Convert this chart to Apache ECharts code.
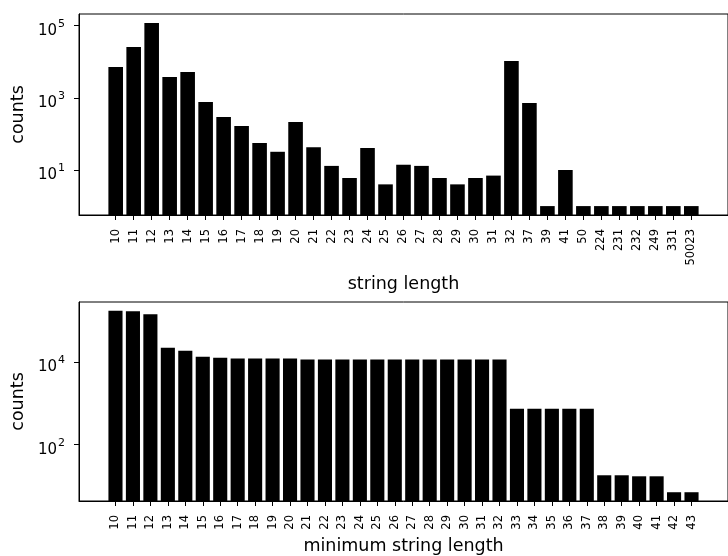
<!DOCTYPE html>
<html>
<head>
<meta charset="utf-8">
<script src="https://cdn.jsdelivr.net/npm/echarts@6/dist/echarts.min.js"></script>
<style>
html,body{margin:0;padding:0;background:#fff;}
#chart{width:728px;height:556px;}
</style>
</head>
<body>
<div id="chart"></div>
<script>
const topCategories = ['10','11','12','13','14','15','16','17','18','19','20','21','22','23','24','25','26','27','28','29','30','31','32','37','39','41','50','224','231','232','249','331','50023'];
const topCounts = [7180, 25700, 119000, 3780, 5210, 767, 294, 166, 56, 32, 214, 43, 13, 6, 41, 4, 14, 13, 6, 4, 6, 7, 10500, 720, 1, 10, 1, 1, 1, 1, 1, 1, 1];
const bottomCategories = ['10','11','12','13','14','15','16','17','18','19','20','21','22','23','24','25','26','27','28','29','30','31','32','33','34','35','36','37','38','39','40','41','42','43'];
const bottomCounts = [172000, 167000, 142000, 22000, 18500, 13200, 12600, 12000, 12000, 12000, 12000, 11400, 11400, 11400, 11400, 11400, 11400, 11400, 11400, 11400, 11400, 11400, 11400, 730, 730, 730, 730, 730, 18, 18, 17, 17, 7, 7];
const topYTicks = [10, 1000, 100000];
const bottomYTicks = [100, 10000];
const topXLabel = 'string length';
const bottomXLabel = 'minimum string length';
const yLabel = 'counts';

const FONT = 'DejaVu Sans';
const chart = echarts.init(document.getElementById('chart'), null, {renderer: 'canvas'});

function idx(arr) { return arr.map((_, i) => i); }
function pairs(vals) { return vals.map((v, i) => [i, v]); }
function margins(n) { const r = (n - 1) + 0.8; return [-0.4 - 0.05 * r, n - 1 + 0.4 + 0.05 * r]; }

function xAxis(grid, cats, name, gap) {
  const m = margins(cats.length);
  return {
    type: 'value', gridIndex: grid, min: m[0], max: m[1],
    splitLine: {show: false},
    axisLine: {show: true, onZero: false, lineStyle: {color: '#000', width: 1}},
    axisTick: {show: true, customValues: idx(cats), length: 5, lineStyle: {color: '#000', width: 1}},
    axisLabel: {show: true, customValues: idx(cats), rotate: 90, fontSize: 11.5, fontFamily: FONT, color: '#000', margin: 14,
      formatter: v => cats[Math.round(v)]},
    name: name, nameLocation: 'middle', nameGap: gap,
    nameTextStyle: {fontSize: 17.5, fontFamily: FONT, color: '#000'}
  };
}
function yAxis(grid, lo, hi, ticks) {
  return {
    type: 'log', logBase: 10, gridIndex: grid, min: lo, max: hi, startValue: lo,
    splitLine: {show: false}, minorTick: {show: false},
    axisLine: {show: true, onZero: false, lineStyle: {color: '#000', width: 1}},
    axisTick: {show: true, customValues: ticks, length: 5, lineStyle: {color: '#000', width: 1}},
    axisLabel: {show: true, customValues: ticks, margin: 14, color: '#000', padding: [6, 0, 0, 0],
      formatter: v => '{b|10}{s|' + Math.round(Math.log10(v)) + '}',
      rich: {
        b: {fontSize: 15, fontFamily: FONT, color: '#000', lineHeight: 20, verticalAlign: 'bottom'},
        s: {fontSize: 11, fontFamily: FONT, color: '#000', lineHeight: 10, verticalAlign: 'top', padding: [0, 0, 0, 1]}
      }},
    name: yLabel, nameLocation: 'middle', nameGap: 52,
    nameTextStyle: {fontSize: 17.5, fontFamily: FONT, color: '#000'}
  };
}

const option = {
  backgroundColor: '#fff',
  animation: false,
  grid: [
    {left: 79, top: 14, width: 657, height: 201, show: true, borderColor: '#000', borderWidth: 1, backgroundColor: 'transparent'},
    {left: 79, top: 302, width: 657, height: 201, show: true, borderColor: '#000', borderWidth: 1, backgroundColor: 'transparent'}
  ],
  xAxis: [xAxis(0, topCategories, topXLabel, 60), xAxis(1, bottomCategories, bottomXLabel, 36)],
  yAxis: [yAxis(0, Math.pow(10, -0.247), Math.pow(10, 5.324), topYTicks), yAxis(1, Math.pow(10, 0.633), Math.pow(10, 5.446), bottomYTicks)],
  series: [
    {type: 'bar', xAxisIndex: 0, yAxisIndex: 0, data: pairs(topCounts), barWidth: 14.6, itemStyle: {color: '#000'}},
    {type: 'bar', xAxisIndex: 1, yAxisIndex: 1, data: pairs(bottomCounts), barWidth: 14.1, itemStyle: {color: '#000'}}
  ]
};
chart.setOption(option);
</script>
</body>
</html>
